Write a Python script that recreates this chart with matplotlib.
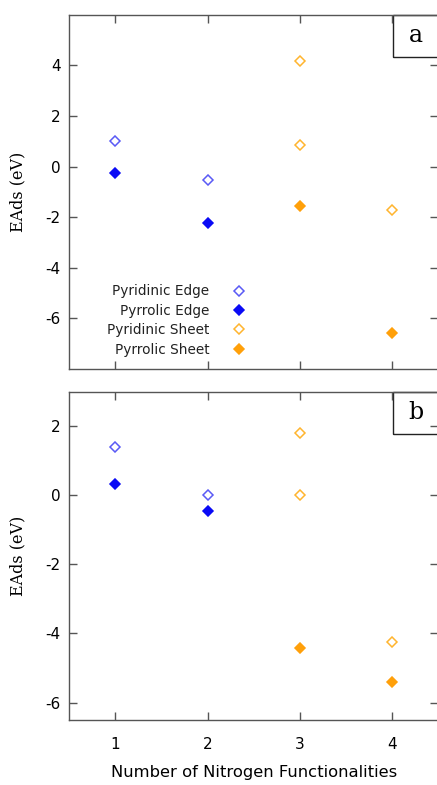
import matplotlib
matplotlib.use("Agg")
import matplotlib.pyplot as plt
from matplotlib.patches import Rectangle

plt.rcParams["axes.unicode_minus"] = False

# adsorption energies (eV) vs number of nitrogen functionalities
# panel a
a_pyr_edge_x = [1, 2]
a_pyr_edge_y = [1.03, -0.54]
a_pyrr_edge_x = [1, 2]
a_pyrr_edge_y = [-0.24, -2.24]
a_pyr_sheet_x = [3, 3, 4]
a_pyr_sheet_y = [4.18, 0.85, -1.71]
a_pyrr_sheet_x = [3, 4]
a_pyrr_sheet_y = [-1.57, -6.58]

# panel b
b_pyr_edge_x = [1, 2]
b_pyr_edge_y = [1.40, 0.0]
b_pyrr_edge_x = [1, 2]
b_pyrr_edge_y = [0.32, -0.45]
b_pyr_sheet_x = [3, 3, 4]
b_pyr_sheet_y = [1.81, 0.02, -4.24]
b_pyrr_sheet_x = [3, 4]
b_pyrr_sheet_y = [-4.41, -5.39]

labels = ["Pyridinic Edge", "Pyrrolic Edge", "Pyridinic Sheet", "Pyrrolic Sheet"]
xticks = [1, 2, 3, 4]

BLUE_OPEN = "#5a5af5"
BLUE = "#0a0af5"
ORANGE_OPEN = "#ffb52e"
ORANGE = "#ffa00a"
SPINE = "#555555"

fig = plt.figure(figsize=(4.37, 7.85), dpi=100)
ax1 = fig.add_axes([0.158, 0.530, 0.845, 0.451])
ax2 = fig.add_axes([0.158, 0.083, 0.845, 0.418])


def draw(ax, data):
    styles = [(BLUE_OPEN, "none"), (BLUE, BLUE), (ORANGE_OPEN, "none"), (ORANGE, ORANGE)]
    for (xs, ys), (ec, fc), lab in zip(data, styles, labels):
        ax.plot(xs, ys, "D", ms=5, mec=ec, mfc=fc, mew=1.1, ls="none", label=lab)
    ax.set_xlim(0.5, 4.5)
    ax.set_xticks(xticks)
    for s in ax.spines.values():
        s.set_color(SPINE)
        s.set_linewidth(1.0)
    ax.tick_params(direction="in", top=True, right=True, length=6, width=1,
                   color=SPINE, labelsize=11, pad=6)
    ax.tick_params(axis="x", pad=12)
    ax.set_ylabel("EAds (eV)", family="DejaVu Serif", fontsize=11.5, labelpad=14)


draw(ax1, [(a_pyr_edge_x, a_pyr_edge_y), (a_pyrr_edge_x, a_pyrr_edge_y),
           (a_pyr_sheet_x, a_pyr_sheet_y), (a_pyrr_sheet_x, a_pyrr_sheet_y)])
draw(ax2, [(b_pyr_edge_x, b_pyr_edge_y), (b_pyrr_edge_x, b_pyrr_edge_y),
           (b_pyr_sheet_x, b_pyr_sheet_y), (b_pyrr_sheet_x, b_pyrr_sheet_y)])

ax1.set_ylim(-8, 6)
ax1.set_yticks([-6, -4, -2, 0, 2, 4])
ax1.tick_params(labelbottom=False)
ax2.set_ylim(-6.5, 3)
ax2.set_yticks([-6, -4, -2, 0, 2])
ax2.set_xlabel("Number of Nitrogen Functionalities", fontsize=11.8, labelpad=10)

leg = ax1.legend(loc="lower left", bbox_to_anchor=(0.07, 0.0), markerfirst=False,
                 frameon=False, fontsize=9.8, handletextpad=1.7, labelspacing=0.4,
                 handlelength=1.0)
for t in leg.get_texts():
    t.set_color("#222222")

# panel tags
for ax, tag, y0, h in [(ax1, "a", 0.882, 0.118), (ax2, "b", 0.872, 0.128)]:
    ax.add_patch(Rectangle((0.877, y0), 0.2, h, transform=ax.transAxes,
                           fill=False, ec="#222222", lw=1.0, clip_on=False))
    ax.text(0.938, y0 + h / 2, tag, transform=ax.transAxes, ha="center",
            va="center", family="DejaVu Serif", fontsize=17)

fig.savefig("out.png", dpi=100)
